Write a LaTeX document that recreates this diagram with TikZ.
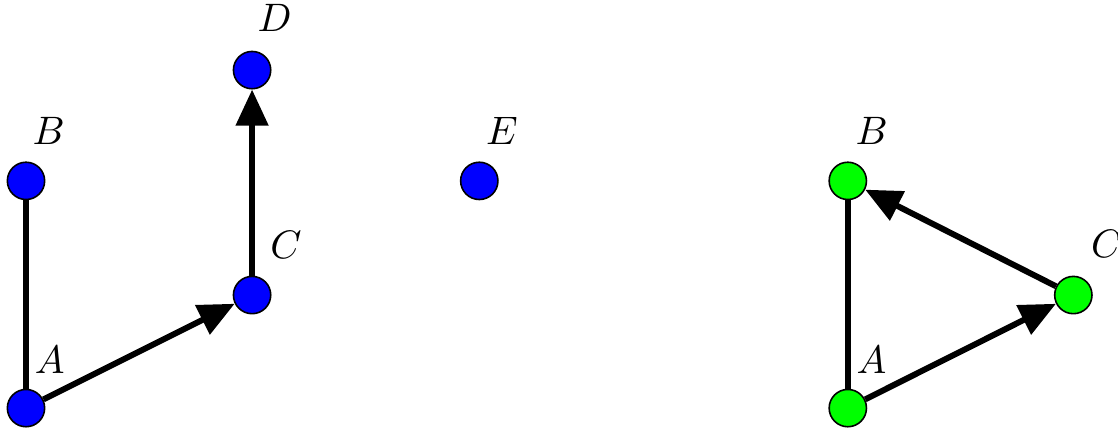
\documentclass[tikz,border=0pt]{standalone}
\usepackage{tikz}
\usetikzlibrary{arrows.meta,positioning}

\begin{document}
\begin{tikzpicture}[
      vtx/.style={circle,draw=black,thin,fill=blue,minimum size=3.3mm,inner sep=0pt},
      gvtx/.style={vtx,fill=green},
      tag/.style={font=\normalsize,inner sep=0pt},
      link/.style={line width=1.5pt,draw=black},
      flow/.style={link,-{Triangle[length=3.2mm,width=2.8mm]}}]
    \useasboundingbox (-0.23,-0.195) rectangle (9.66,3.61);
    % left graph
    \node[vtx] (a) at (0,0) {};
    \node[vtx] (b) at (0,2.01) {};
    \node[vtx] (c) at (2,1.0) {};
    \node[vtx] (d) at (2,2.99) {};
    \node[vtx] (e) at (4.01,2.01) {};
    \node[tag] (la) at (0.21,0.43) {$A$};
    \node[tag] (lb) at (0.2,2.45) {$B$};
    \node[tag] (lc) at (2.3,1.44) {$C$};
    \node[tag] (ld) at (2.2,3.45) {$D$};
    \node[tag] (le) at (4.21,2.45) {$E$};
    \draw[link] (a) -- (b);
    \draw[flow] (a) -- (c);
    \draw[flow] (c) -- (d);
    % right graph
    \node[gvtx] (a2) at (7.27,0) {};
    \node[gvtx] (b2) at (7.27,2.01) {};
    \node[gvtx] (c2) at (9.265,1.0) {};
    \node[tag] (la2) at (7.48,0.43) {$A$};
    \node[tag] (lb2) at (7.48,2.45) {$B$};
    \node[tag] (lc2) at (9.56,1.45) {$C$};
    \draw[link] (a2) -- (b2);
    \draw[flow] (a2) -- (c2);
    \draw[flow] (c2) -- (b2);
  \end{tikzpicture}
\end{document}
